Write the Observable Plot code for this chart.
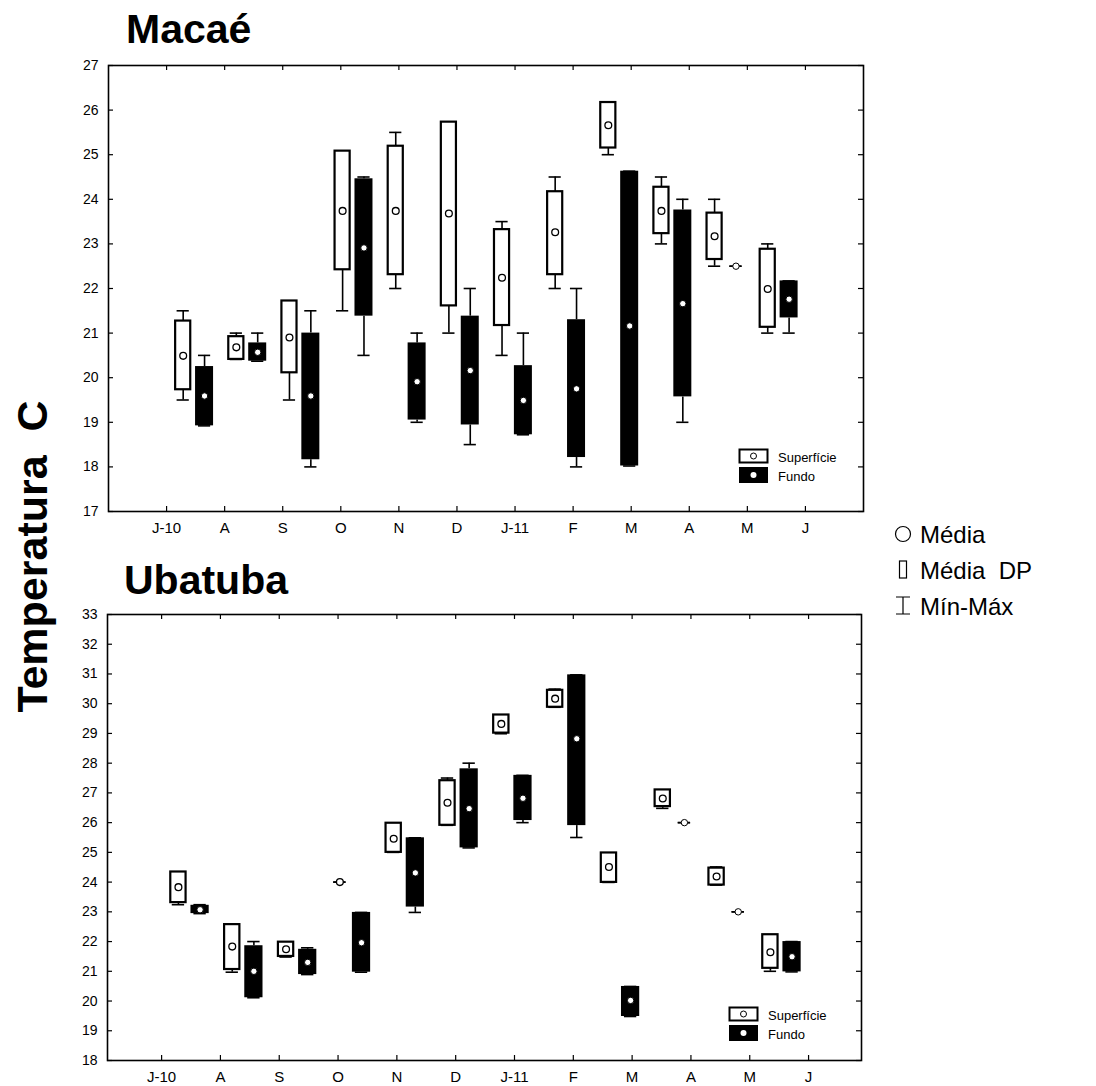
<!DOCTYPE html>
<html>
<head>
<meta charset="utf-8">
<script src="https://cdn.jsdelivr.net/npm/d3@7"></script>
<script src="https://cdn.jsdelivr.net/npm/@observablehq/plot@0.6"></script>
<style>
  html, body { margin: 0; padding: 0; background: #fff; }
  #page { position: relative; width: 1096px; height: 1086px; overflow: hidden; font-family: "Liberation Sans", Arial, sans-serif; color: #000; }
  .abs { position: absolute; }
  .title { font-weight: bold; font-size: 41px; line-height: 1; }
  .ytitle { font-weight: bold; font-size: 43px; white-space: pre; transform: rotate(-90deg); transform-origin: center center; line-height: 1; }
  .leg { font-size: 13px; line-height: 1; }
  .rleg { font-size: 24px; line-height: 1; white-space: pre; }
</style>
</head>
<body>
<div id="page"></div>
<script>
// ---------- data ----------
const months = ["J-10", "A", "S", "O", "N", "D", "J-11", "F", "M", "A", "M", "J"];

// Macaé – Superfície
const macaeSupMean = [20.49, 20.68, 20.90, 23.74, 23.74, 23.68, 22.24, 23.26, 25.66, 23.74, 23.17, 21.99];
const macaeSupLo   = [19.73, 20.41, 20.11, 22.42, 22.31, 21.61, 21.17, 22.31, 25.15, 23.23, 22.65, 21.13];
const macaeSupHi   = [21.27, 20.92, 21.72, 25.08, 25.19, 25.73, 23.32, 24.17, 26.17, 24.27, 23.69, 22.88];
const macaeSupMin  = [19.5, 20.41, 19.5, 21.5, 22.0, 21.0, 20.5, 22.0, 25.0, 23.0, 22.5, 21.0];
const macaeSupMax  = [21.5, 21.0, 21.72, 25.08, 25.5, 25.73, 23.5, 24.5, 26.17, 24.5, 24.0, 23.0];
// Macaé – Fundo
const macaeFunMean = [19.59, 20.57, 19.59, 22.91, 19.91, 20.16, 19.49, 19.75, 21.16, 21.66, 22.5, 21.76];
const macaeFunLo   = [18.92, 20.37, 18.16, 21.38, 19.05, 18.94, 18.72, 18.21, 18.02, 19.57, 22.5, 21.34];
const macaeFunHi   = [20.25, 20.78, 21.0, 24.46, 20.78, 21.38, 20.27, 21.30, 24.63, 23.76, 22.5, 22.17];
const macaeFunMin  = [18.92, 20.37, 18.0, 20.5, 19.0, 18.5, 18.72, 18.0, 18.02, 19.0, 22.5, 21.0];
const macaeFunMax  = [20.5, 21.0, 21.5, 24.5, 21.0, 22.0, 21.0, 22.0, 24.63, 24.0, 22.5, 22.17];

// Ubatuba – Superfície
const ubaSupMean = [23.83, 21.83, 21.74, 24.0, 25.46, 26.67, 29.32, 30.17, 24.51, 26.81, 24.19, 21.64];
const ubaSupLo   = [23.31, 21.06, 21.50, 24.0, 25.0, 25.91, 29.01, 29.88, 23.99, 26.54, 23.90, 21.10];
const ubaSupHi   = [24.34, 22.57, 21.98, 24.0, 25.98, 27.41, 29.62, 30.45, 24.98, 27.10, 24.47, 22.23];
const ubaSupMin  = [23.24, 20.97, 21.48, 24.0, 25.0, 25.91, 28.99, 29.88, 23.99, 26.48, 23.90, 21.0];
const ubaSupMax  = [24.34, 22.57, 21.98, 24.0, 25.98, 27.5, 29.62, 30.49, 24.98, 27.10, 24.51, 22.23];
// Ubatuba – Fundo
const ubaFunMean = [23.07, 21.0, 21.30, 21.96, 24.31, 26.47, 26.82, 28.82, 20.02, 26.0, 23.0, 21.49];
const ubaFunLo   = [22.94, 20.11, 20.89, 20.97, 23.16, 25.15, 26.07, 25.90, 19.48, 26.0, 23.0, 20.98];
const ubaFunHi   = [23.22, 21.86, 21.74, 22.98, 25.49, 27.81, 27.59, 30.97, 20.49, 26.0, 23.0, 22.0];
const ubaFunMin  = [22.94, 20.11, 20.89, 20.97, 22.98, 25.15, 26.0, 25.5, 19.48, 26.0, 23.0, 20.98];
const ubaFunMax  = [23.24, 22.0, 21.79, 22.98, 25.49, 28.0, 27.59, 30.97, 20.49, 26.0, 23.0, 22.0];

const macaeYTicks = d3.range(17, 28);
const ubaYTicks = d3.range(18, 34);
const xTickPos = d3.range(1, 13);

// ---------- layout helpers ----------
const G0 = 1.47, STEP = 0.915, OFF = 0.184;     // group placement in tick units
const HW_SUP = 0.13, HW_FUN = 0.155, CAP = 0.105;

function rowsFor(series, mean, lo, hi, mn, mx) {
  return months.map((m, i) => ({
    series, i,
    x: G0 + STEP * i + (series === "sup" ? -OFF : OFF),
    mean: mean[i], lo: lo[i], hi: hi[i], min: mn[i], max: mx[i]
  }));
}

function panel({sup, fun, yDomain, yTicks, xDomain, width, height, mt, mb, ml, mr}) {
  const plotW = width - ml - mr, plotH = height - mt - mb;
  const all = sup.concat(fun);
  return Plot.plot({
    width, height,
    marginTop: mt, marginBottom: mb, marginLeft: ml, marginRight: mr,
    style: {fontFamily: "'Liberation Sans', Arial, sans-serif", color: "#000", background: "transparent"},
    x: {type: "linear", domain: xDomain},
    y: {domain: yDomain},
    marks: [
      Plot.axisY(yTicks, {tickSize: 0, tickPadding: 10, fontSize: 14, label: null}),
      Plot.axisX(xTickPos, {tickSize: 0, tickPadding: 11, fontSize: 15, label: null,
        tickFormat: d => months[d - 1]}),
      // inward ticks
      Plot.tickY(yTicks, {y: d => d, insetRight: plotW - 5, stroke: "#000", strokeWidth: 1.2}),
      Plot.tickY(yTicks, {y: d => d, insetLeft: plotW - 5, stroke: "#000", strokeWidth: 1.2}),
      Plot.tickX(xTickPos, {x: d => d, insetBottom: plotH - 5, stroke: "#000", strokeWidth: 1.2}),
      Plot.tickX(xTickPos, {x: d => d, insetTop: plotH - 5, stroke: "#000", strokeWidth: 1.2}),
      // whiskers
      Plot.ruleX(all, {x: "x", y1: "hi", y2: "max", stroke: "#000", strokeWidth: 1.6}),
      Plot.ruleX(all, {x: "x", y1: "lo", y2: "min", stroke: "#000", strokeWidth: 1.6}),
      Plot.ruleY(all, {y: "max", x1: d => d.x - CAP, x2: d => d.x + CAP, stroke: "#000", strokeWidth: 1.6}),
      Plot.ruleY(all, {y: "min", x1: d => d.x - CAP, x2: d => d.x + CAP, stroke: "#000", strokeWidth: 1.6}),
      // boxes (mean ± DP)
      Plot.rect(sup.filter(d => d.hi > d.lo), {x1: d => d.x - HW_SUP, x2: d => d.x + HW_SUP, y1: "lo", y2: "hi",
        fill: "#fff", stroke: "#000", strokeWidth: 2.2}),
      Plot.rect(fun.filter(d => d.hi > d.lo), {x1: d => d.x - HW_FUN, x2: d => d.x + HW_FUN, y1: "lo", y2: "hi",
        fill: "#000"}),
      // means
      Plot.dot(sup, {x: "x", y: "mean", r: 3.4, fill: "#fff", stroke: "#000", strokeWidth: 1.3}),
      Plot.dot(fun, {x: "x", y: "mean", r: 3.2, fill: "#fff", stroke: "#000", strokeWidth: 1}),
      Plot.frame({stroke: "#000", strokeWidth: 1.6})
    ]
  });
}

const page = document.getElementById("page");

const topPlot = panel({
  sup: rowsFor("sup", macaeSupMean, macaeSupLo, macaeSupHi, macaeSupMin, macaeSupMax),
  fun: rowsFor("fun", macaeFunMean, macaeFunLo, macaeFunHi, macaeFunMin, macaeFunMax),
  yDomain: [17, 27], yTicks: macaeYTicks, xDomain: [0, 13],
  width: 900, height: 546, mt: 65, mb: 35, ml: 108, mr: 37
});
topPlot.style.position = "absolute"; topPlot.style.left = "0px"; topPlot.style.top = "0px";
page.appendChild(topPlot);

const botPlot = panel({
  sup: rowsFor("sup", ubaSupMean, ubaSupLo, ubaSupHi, ubaSupMin, ubaSupMax),
  fun: rowsFor("fun", ubaFunMean, ubaFunLo, ubaFunHi, ubaFunMin, ubaFunMax),
  yDomain: [18, 33], yTicks: ubaYTicks, xDomain: [0.08, 12.9],
  width: 900, height: 536, mt: 64, mb: 26, ml: 107, mr: 39
});
botPlot.style.position = "absolute"; botPlot.style.left = "0px"; botPlot.style.top = "550px";
page.appendChild(botPlot);

// ---------- text overlays ----------
function addDiv(cls, text, css) {
  const d = document.createElement("div");
  d.className = "abs " + cls;
  d.textContent = text;
  Object.assign(d.style, css);
  page.appendChild(d);
  return d;
}
addDiv("title", "Macaé", {left: "126px", top: "9px"});
addDiv("title", "Ubatuba", {left: "124px", top: "560px"});

const yt = addDiv("ytitle", "Temperatura  C", {left: "0px", top: "0px"});
const w0 = yt.offsetWidth, h0 = yt.offsetHeight;
yt.style.left = (32 - w0 / 2) + "px";
yt.style.top = (556 - h0 / 2) + "px";

// in-panel legends
function panelLegend(x, y) {
  const ns = "http://www.w3.org/2000/svg";
  const svg = document.createElementNS(ns, "svg");
  svg.setAttribute("width", 32); svg.setAttribute("height", 36);
  svg.style.position = "absolute"; svg.style.left = (x - 1) + "px"; svg.style.top = (y - 1) + "px";
  svg.innerHTML =
    '<rect x="1.5" y="1.5" width="28" height="13" fill="#fff" stroke="#000" stroke-width="2"/>' +
    '<circle cx="15.5" cy="8" r="3" fill="#fff" stroke="#000" stroke-width="1"/>' +
    '<rect x="1" y="19" width="29" height="16" fill="#000"/>' +
    '<circle cx="15.5" cy="27" r="3" fill="#fff"/>';
  page.appendChild(svg);
  addDiv("leg", "Superfície", {left: (x + 39) + "px", top: (y + 2) + "px"});
  addDiv("leg", "Fundo", {left: (x + 39) + "px", top: (y + 21) + "px"});
}
panelLegend(739, 449);
panelLegend(729, 1007);

// right legend
(function () {
  const ns = "http://www.w3.org/2000/svg";
  const svg = document.createElementNS(ns, "svg");
  svg.setAttribute("width", 30); svg.setAttribute("height", 110);
  svg.style.position = "absolute"; svg.style.left = "890px"; svg.style.top = "518px";
  svg.innerHTML =
    '<circle cx="13" cy="16" r="7.5" fill="none" stroke="#000" stroke-width="1.2"/>' +
    '<rect x="9.5" y="43" width="7" height="17" fill="none" stroke="#000" stroke-width="1.2"/>' +
    '<path d="M6,79 H20 M13,79 V96 M6,96 H20" fill="none" stroke="#000" stroke-width="1.2"/>';
  page.appendChild(svg);
  addDiv("rleg", "Média", {left: "920px", top: "523px"});
  addDiv("rleg", "Média  DP", {left: "920px", top: "559px"});
  addDiv("rleg", "Mín-Máx", {left: "920px", top: "595px"});
})();
</script>
</body>
</html>
